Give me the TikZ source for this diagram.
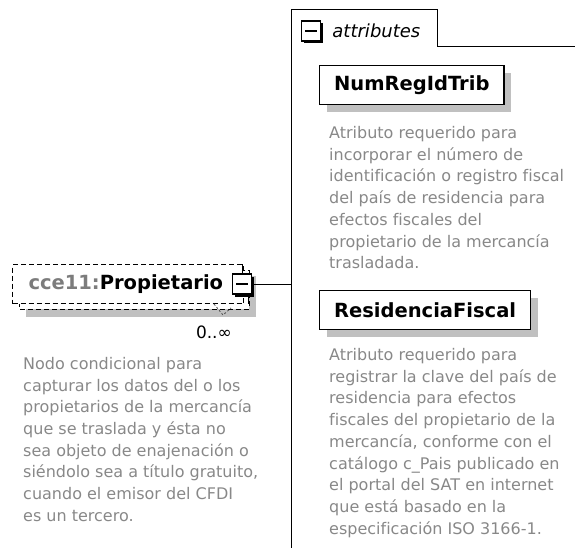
\documentclass[tikz,border=0pt]{standalone}
\usepackage{fontspec}
\setmainfont{DejaVu Sans}[Ligatures=NoCommon]
\usetikzlibrary{positioning}
\usetikzlibrary{shadows}

\definecolor{docgray}{RGB}{136,136,136}
\definecolor{prefixgray}{RGB}{124,124,124}
\definecolor{shadowgray}{RGB}{192,192,192}

\tikzset {
  % dashed outline of an optional element
  elem/.style = {
    draw = black,
    dash pattern = on 5pt off 3pt,
    fill = white,
    line width = 1pt
  },
  elem box/.style = {
    elem,
    anchor = north west,
    minimum height = 39pt,
    text width = 199pt,
    inner xsep = 16pt,
    inner ysep = 0pt,
    align = left,
    font = \fontsize{19.5}{23}\selectfont\bfseries
  },
  % collapse button with black shadow
  minusbox/.style = {
    draw = black,
    fill = white,
    line width = 1.5pt,
    minimum width = 19pt,
    minimum height = 20pt,
    inner sep = 0,
    preaction = {
      fill = black,
      transform canvas = {shift = {(2.5pt, -2.5pt)}}
    },
    path picture = {
      \draw[line width = 1.5pt]
        ([xshift = -6pt]path picture bounding box.center)
        -- ([xshift = 6pt]path picture bounding box.center);
    }
  },
  % attribute box
  attr/.style = {
    draw = black,
    fill = white,
    line width = 1.2pt,
    anchor = north west,
    minimum height = 39pt,
    inner xsep = 14.5pt,
    font = \fontsize{19.5}{23}\selectfont\bfseries,
    drop shadow = {shadow xshift = 7pt, shadow yshift = -7pt,
      fill = shadowgray, opacity = 1}
  },
  % annotation text
  doc/.style = {
    align = left,
    inner sep = 0,
    text = docgray,
    font = \fontsize{16}{21.7}\selectfont
  },
  conn/.style = {
    draw = black,
    line width = 1pt
  },
  frame/.style = {
    conn
  }
}

\begin{document}
\begin{tikzpicture}[x = 1pt, y = -1pt]
    \useasboundingbox (0,0) rectangle (575,548);

    % stacked copy and shadow behind the element
    \fill[shadowgray] (26,276) rectangle (256,317);
    \draw[elem] (19,270) rectangle (249,309);

    \node[elem box] (prop) at (12,264)
      {\textcolor{prefixgray}{cce11:}Propietario};

    \node[minusbox] (prop expand) at ([xshift = -2pt]prop.east) {};

    \node[inner sep = 0, anchor = north east,
      font = \fontsize{17}{17}\selectfont]
      (prop mult) [below left = 22pt and 12pt of prop.south east]
      {0..∞};

    \node[doc] (prop doc) [below right = 53pt and 11pt of prop.south west]
      {Nodo condicional para\\
       capturar los datos del o los\\
       propietarios de la mercancía\\
       que se traslada y ésta no\\
       sea objeto de enajenación o\\
       siéndolo sea a título gratuito,\\
       cuando el emisor del CFDI\\
       es un tercero.};

    % attributes group
    \coordinate (tab corner) at (291,10);
    \coordinate (tab end) at (437,47);

    \draw[frame] (575,47) -| (tab end) |- (tab corner) -- (291,548);

    \node[minusbox] (attr expand) at (311,31) {};
    \node[inner sep = 0, font = \fontsize{18}{18}\selectfont\itshape]
      (attr label) [right = 11pt of attr expand] {attributes};

    \node[attr] (numreg) at (319,65) {NumRegIdTrib};
    \node[doc] (numreg doc) [below right = 21pt and 10pt of numreg.south west]
      {Atributo requerido para\\
       incorporar el número de\\
       identificación o registro fiscal\\
       del país de residencia para\\
       efectos fiscales del\\
       propietario de la mercancía\\
       trasladada.};

    \node[attr] (resfisc) at (319,290) {ResidenciaFiscal};
    \node[doc] (resfisc doc) [below right = 18pt and 10pt of resfisc.south west]
      {Atributo requerido para\\
       registrar la clave del país de\\
       residencia para efectos\\
       fiscales del propietario de la\\
       mercancía, conforme con el\\
       catálogo c\_Pais publicado en\\
       el portal del SAT en internet\\
       que está basado en la\\
       especificación ISO 3166-1.};

    % connectors
    \draw[conn] (prop expand) -- (prop expand -| tab corner);
    \draw[conn] (prop expand.north) -- (prop expand.north |- prop.north);
    \draw[conn] ([xshift = 6pt]prop expand.south)
      -- ([xshift = 6pt]prop expand.south |- prop.south);
    \draw[black!70, line width = 0.8pt, dash pattern = on 2pt off 2pt]
      (214,304) -- (223,315) -- (231,308);
\end{tikzpicture}
\end{document}
